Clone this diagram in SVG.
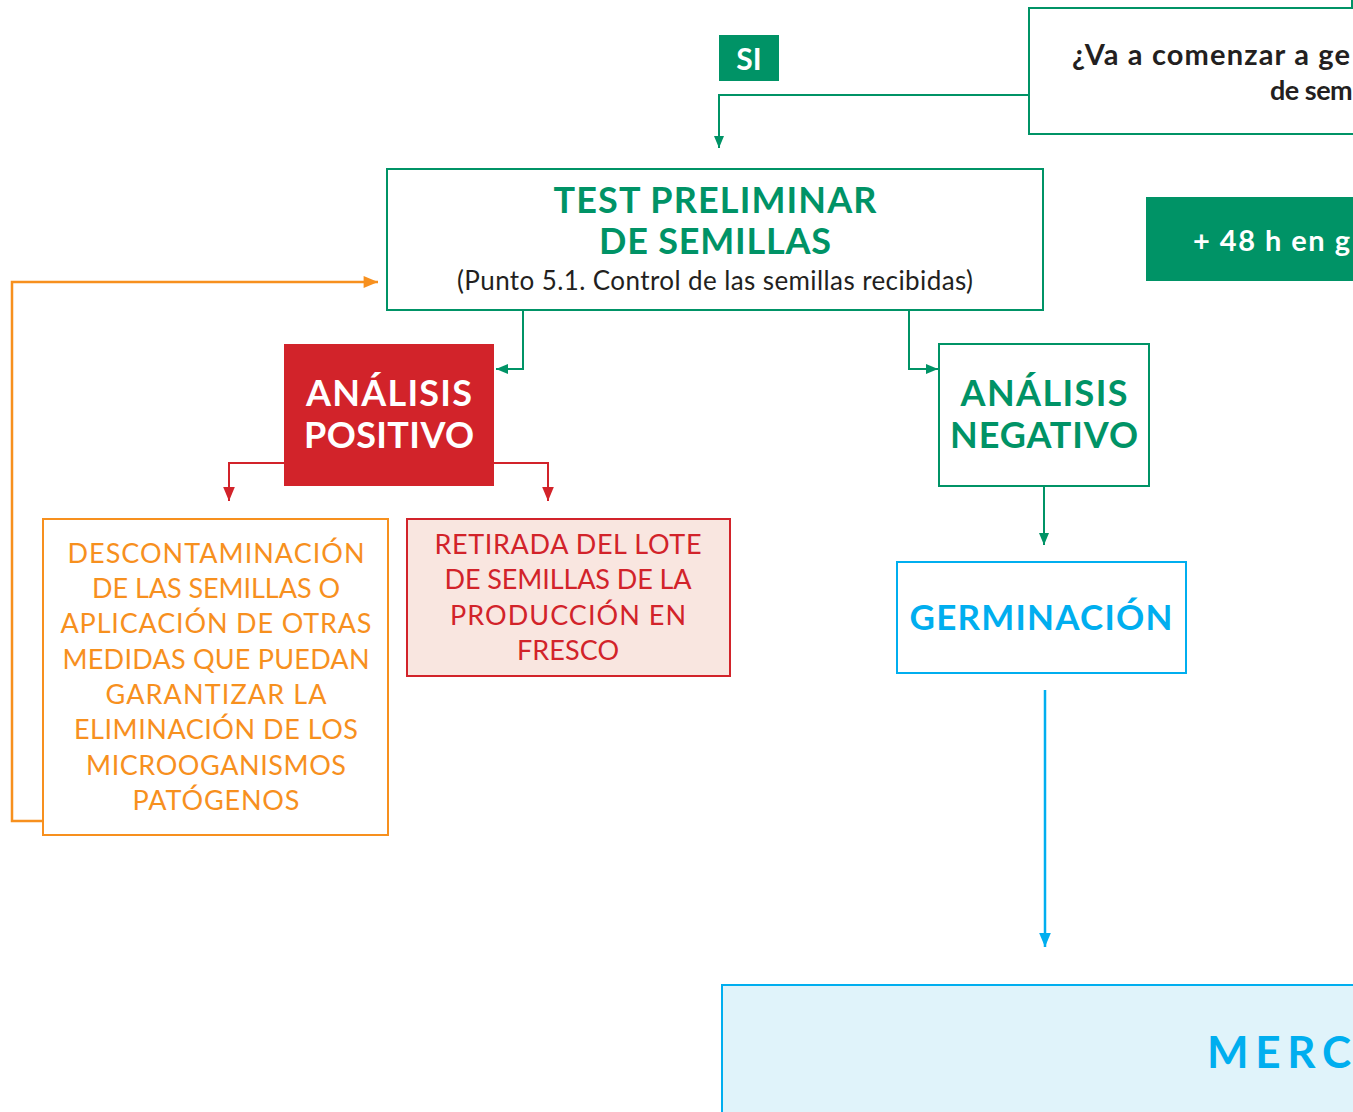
<svg xmlns="http://www.w3.org/2000/svg" width="1353" height="1112" viewBox="0 0 1353 1112">
<style>
  .g{fill:#009366}
  .box{fill:#fff;stroke:#009366;stroke-width:2}
  .tb{font-family:Lato,"Open Sans",sans-serif;font-weight:bold}
  .tr{font-family:Lato,"Open Sans",sans-serif;font-weight:normal}
  .cg{fill:none;stroke:#009366;stroke-width:2}
  .cr{fill:none;stroke:#d2232a;stroke-width:2}
  .co{fill:none;stroke:#f7901e;stroke-width:2.5}
  .cb{fill:none;stroke:#00aeef;stroke-width:2.5}
</style>
<defs>
  <marker id="ag" viewBox="0 0 12 10" refX="12" refY="5" markerWidth="12" markerHeight="10" markerUnits="userSpaceOnUse" orient="auto"><path d="M0,0 L12,5 L0,10 z" fill="#009366"/></marker>
  <marker id="ar" viewBox="0 0 12 10" refX="12" refY="5" markerWidth="14" markerHeight="12" markerUnits="userSpaceOnUse" orient="auto"><path d="M0,0 L12,5 L0,10 z" fill="#d2232a"/></marker>
  <marker id="ao" viewBox="0 0 12 10" refX="12" refY="5" markerWidth="16" markerHeight="12" markerUnits="userSpaceOnUse" orient="auto"><path d="M0,0 L12,5 L0,10 z" fill="#f7901e"/></marker>
  <marker id="ab" viewBox="0 0 12 10" refX="12" refY="5" markerWidth="14" markerHeight="12" markerUnits="userSpaceOnUse" orient="auto"><path d="M0,0 L12,5 L0,10 z" fill="#00aeef"/></marker>
</defs>
<rect width="1353" height="1112" fill="#fff"/>

<g id="connectors">
  <path class="cg" d="M1352,0 V8"/>
  <path class="cg" d="M1029,95 H719 V148" marker-end="url(#ag)"/>
  <path class="cg" d="M523,310 V369 H496" marker-end="url(#ag)"/>
  <path class="cg" d="M909,310 V369 H938" marker-end="url(#ag)"/>
  <path class="cr" d="M284,463 H229 V501" marker-end="url(#ar)"/>
  <path class="cr" d="M494,463 H548 V501" marker-end="url(#ar)"/>
  <path class="cg" d="M1044,486 V545" marker-end="url(#ag)"/>
  <path class="cb" d="M1045,690 V947" marker-end="url(#ab)"/>
  <path class="co" d="M43,821 H12 V282 H378" marker-end="url(#ao)"/>
</g>

<g id="si">
  <rect x="719" y="35" width="60" height="46" class="g"/>
  <text x="749" y="70" text-anchor="middle" class="tb" font-size="30" fill="#fff">SI</text>
</g>

<g id="pregunta">
  <rect x="1029" y="8" width="340" height="126" class="box"/>
  <text x="1072" y="65" class="tb" font-size="29" fill="#231f20" textLength="278">¿Va a comenzar a ge</text>
  <text x="1270" y="100" class="tb" font-size="27" fill="#231f20" letter-spacing="-0.5">de sem</text>
</g>

<g id="mas48">
  <rect x="1146" y="197" width="220" height="84" class="g"/>
  <text x="1193" y="251" class="tb" font-size="29" fill="#fff" textLength="157">+ 48 h en g</text>
</g>

<g id="test">
  <rect x="387" y="169" width="656" height="141" class="box"/>
  <text x="715" y="213" text-anchor="middle" class="tb" font-size="36" fill="#009366" textLength="323">TEST PRELIMINAR</text>
  <text x="715" y="254" text-anchor="middle" class="tb" font-size="36" fill="#009366" textLength="232">DE SEMILLAS</text>
  <text x="715" y="290" text-anchor="middle" class="tr" font-size="26" fill="#231f20" textLength="516">(Punto 5.1. Control de las semillas recibidas)</text>
</g>

<g id="positivo">
  <rect x="284" y="344" width="210" height="142" fill="#d2232a"/>
  <text x="389" y="406" text-anchor="middle" class="tb" font-size="36" fill="#fff" textLength="166">ANÁLISIS</text>
  <text x="389" y="448" text-anchor="middle" class="tb" font-size="36" fill="#fff" textLength="170">POSITIVO</text>
</g>

<g id="negativo">
  <rect x="939" y="344" width="210" height="142" class="box"/>
  <text x="1044" y="406" text-anchor="middle" class="tb" font-size="36" fill="#009366" textLength="167">ANÁLISIS</text>
  <text x="1044" y="448" text-anchor="middle" class="tb" font-size="36" fill="#009366" textLength="188">NEGATIVO</text>
</g>

<g id="germinacion">
  <rect x="897" y="562" width="289" height="111" fill="#fff" stroke="#00aeef" stroke-width="2"/>
  <text x="1041" y="630" text-anchor="middle" class="tb" font-size="35" fill="#00aeef" textLength="263">GERMINACIÓN</text>
</g>

<g id="descontaminacion">
  <rect x="43" y="519" width="345" height="316" fill="#fff" stroke="#f7901e" stroke-width="2"/>
  <g class="tr" font-size="27" fill="#f7901e" text-anchor="middle">
    <text x="216" y="563" textLength="297">DESCONTAMINACIÓN</text>
    <text x="216" y="598" textLength="248">DE LAS SEMILLAS O</text>
    <text x="216" y="633" textLength="311">APLICACIÓN DE OTRAS</text>
    <text x="216" y="669" textLength="307">MEDIDAS QUE PUEDAN</text>
    <text x="216" y="704" textLength="221">GARANTIZAR LA</text>
    <text x="216" y="739" textLength="284">ELIMINACIÓN DE LOS</text>
    <text x="216" y="775" textLength="260">MICROOGANISMOS</text>
    <text x="216" y="810" textLength="167">PATÓGENOS</text>
  </g>
</g>

<g id="retirada">
  <rect x="407" y="519" width="323" height="157" fill="#f9e6e0" stroke="#d2232a" stroke-width="2"/>
  <g class="tr" font-size="27" fill="#d2232a" text-anchor="middle">
    <text x="568" y="554" textLength="267">RETIRADA DEL LOTE</text>
    <text x="568" y="589" textLength="247">DE SEMILLAS DE LA</text>
    <text x="568" y="625" textLength="236">PRODUCCIÓN EN</text>
    <text x="568" y="660" textLength="102">FRESCO</text>
  </g>
</g>

<g id="mercado">
  <rect x="722" y="985" width="660" height="150" fill="#e0f3fa" stroke="#00aeef" stroke-width="2"/>
  <text x="1207" y="1068" class="tb" font-size="44" fill="#00aeef" textLength="144">MERC</text>
</g>
</svg>
